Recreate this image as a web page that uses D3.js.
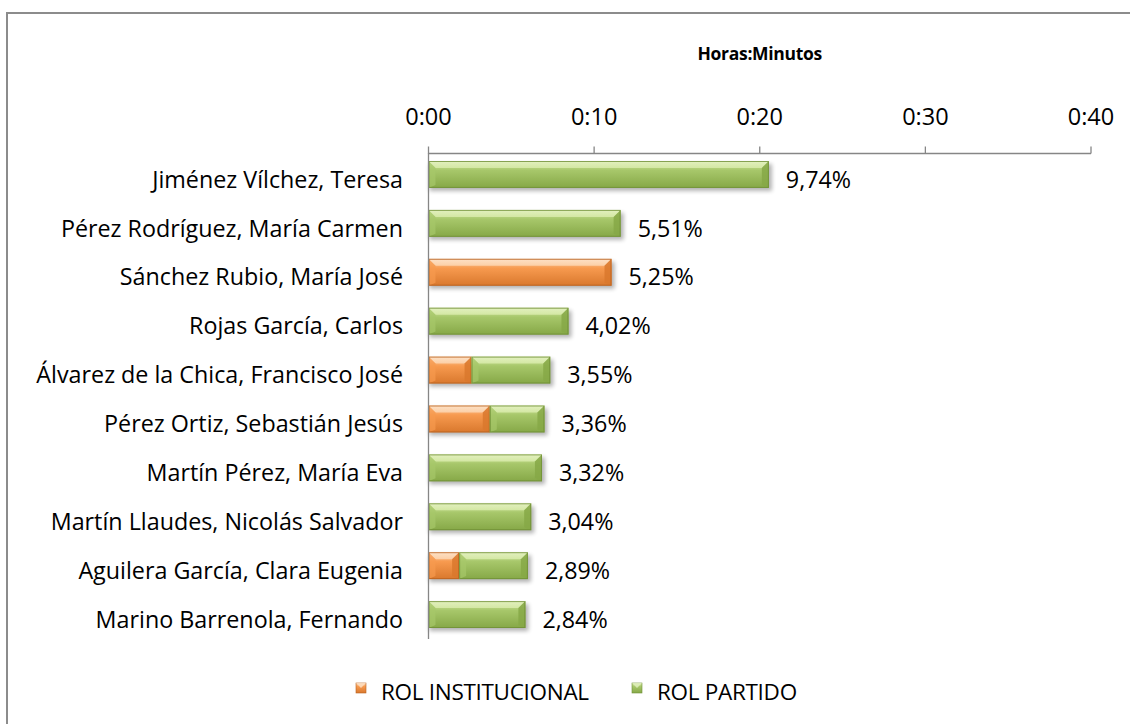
<!DOCTYPE html>
<html>
<head>
<meta charset="utf-8">
<script src="https://cdn.jsdelivr.net/npm/d3@7"></script>
<style>
  html, body { margin: 0; padding: 0; background: #fff; }
  svg { display: block; font-family: "Open Sans", Lato, sans-serif; }
</style>
</head>
<body>
<svg id="chart" width="1130" height="724"></svg>
<script>
// Speakers, ordered by total speaking time
const speakers = [
  "Jiménez Vílchez, Teresa",
  "Pérez Rodríguez, María Carmen",
  "Sánchez Rubio, María José",
  "Rojas García, Carlos",
  "Álvarez de la Chica, Francisco José",
  "Pérez Ortiz, Sebastián Jesús",
  "Martín Pérez, María Eva",
  "Martín Llaudes, Nicolás Salvador",
  "Aguilera García, Clara Eugenia",
  "Marino Barrenola, Fernando"
];
// Minutes spoken in each role
const rolInstitucional = [0, 0, 11.05, 0, 2.6, 3.7, 0, 0, 1.85, 0];
const rolPartido = [20.55, 11.6, 0, 8.45, 4.75, 3.3, 6.85, 6.2, 4.15, 5.85];
// Share of the total session time
const percentLabels = ["9,74%", "5,51%", "5,25%", "4,02%", "3,55%", "3,36%", "3,32%", "3,04%", "2,89%", "2,84%"];
const tickMinutes = [0, 10, 20, 30, 40];
const seriesNames = ["ROL INSTITUCIONAL", "ROL PARTIDO"];

const svg = d3.select("#chart");
const FS = 23.3;

// Outer chart frame
svg.append("rect")
  .attr("x", 7).attr("y", 13).attr("width", 1140).attr("height", 740)
  .attr("fill", "#fff").attr("stroke", "#8c8c8c").attr("stroke-width", 2);

const x = d3.scaleLinear().domain([0, 40]).range([428.5, 1091]);
const y = d3.scaleBand().domain(speakers).range([150, 639]).paddingInner(0.45).paddingOuter(0.225);

const palette = {
  inst: { top: "#fcd3ad", mid: "#f79a4f", bot: "#d9782d", edge: "#b8621f", hi: "#fde3c9" },
  part: { top: "#d7eaa8", mid: "#a7c76a", bot: "#86a847", edge: "#6f8f36", hi: "#e4f1c2" }
};

const defs = svg.append("defs");
Object.entries(palette).forEach(([k, c]) => {
  const g = defs.append("linearGradient").attr("id", "face-" + k)
    .attr("x1", 0).attr("y1", 0).attr("x2", 0).attr("y2", 1);
  g.append("stop").attr("offset", "0%").attr("stop-color", c.top);
  g.append("stop").attr("offset", "35%").attr("stop-color", c.mid);
  g.append("stop").attr("offset", "100%").attr("stop-color", c.bot);
  const h = defs.append("linearGradient").attr("id", "hi-" + k)
    .attr("x1", 0).attr("y1", 0).attr("x2", 0).attr("y2", 1);
  h.append("stop").attr("offset", "0%").attr("stop-color", c.hi);
  h.append("stop").attr("offset", "100%").attr("stop-color", c.top);
});
const shadow = defs.append("filter").attr("id", "shadow")
  .attr("x", "-10%").attr("y", "-30%").attr("width", "130%").attr("height", "180%");
shadow.append("feGaussianBlur").attr("stdDeviation", 2);

// Stack the two roles
const rows = speakers.map((name, i) => ({
  name,
  segs: [
    { key: "inst", x0: 0, x1: rolInstitucional[i] },
    { key: "part", x0: rolInstitucional[i], x1: rolInstitucional[i] + rolPartido[i] }
  ].filter(s => s.x1 > s.x0),
  total: rolInstitucional[i] + rolPartido[i],
  label: percentLabels[i]
}));

// Top axis
const axisG = svg.append("g").attr("transform", "translate(0,153.5)");
axisG.append("line").attr("x1", x(0)).attr("x2", x(40)).attr("stroke", "#868686").attr("stroke-width", 1.3);
axisG.selectAll(".tick").data(tickMinutes).join("line")
  .attr("x1", d => x(d)).attr("x2", d => x(d)).attr("y1", 0).attr("y2", -7)
  .attr("stroke", "#868686").attr("stroke-width", 1.3);
axisG.selectAll(".tl").data(tickMinutes).join("text")
  .attr("x", d => x(d)).attr("y", -35).attr("text-anchor", "middle")
  .attr("dominant-baseline", "middle")
  .attr("font-size", 23.5).attr("fill", "#000")
  .text(d => "0:" + String(d).padStart(2, "0"));

svg.append("text").attr("x", (x(0) + x(40)) / 2).attr("y", 55)
  .attr("text-anchor", "middle").attr("dominant-baseline", "middle")
  .attr("font-size", 17.5).attr("font-weight", "bold").attr("letter-spacing", -0.3).text("Horas:Minutos");

// Bars
const barG = svg.append("g");
const bh = y.bandwidth();
rows.forEach(r => {
  const y0 = y(r.name);
  // soft shadow under the whole bar
  barG.append("rect").attr("x", x(0) + 1).attr("y", y0 + 3)
    .attr("width", x(r.total) - x(0) + 2).attr("height", bh)
    .attr("fill", "#000").attr("opacity", 0.3).attr("filter", "url(#shadow)");
  r.segs.forEach(s => {
    const a = x(s.x0), b = x(s.x1), c = palette[s.key], bv = 7;
    const g = barG.append("g");
    g.append("rect").attr("x", a).attr("y", y0).attr("width", b - a).attr("height", bh)
      .attr("fill", `url(#face-${s.key})`);
    // top bevel facet
    g.append("path")
      .attr("d", `M${a},${y0}L${b},${y0}L${b - bv},${y0 + bv}L${a + bv},${y0 + bv}Z`)
      .attr("fill", `url(#hi-${s.key})`).attr("opacity", 0.9);
    // end facets
    g.append("path")
      .attr("d", `M${b},${y0}L${b},${y0 + bh}L${b - bv},${y0 + bh - 3}L${b - bv},${y0 + bv}Z`)
      .attr("fill", c.bot).attr("opacity", 0.85);
    g.append("path")
      .attr("d", `M${a},${y0}L${a},${y0 + bh}L${a + bv},${y0 + bh - 3}L${a + bv},${y0 + bv}Z`)
      .attr("fill", c.mid).attr("opacity", 0.7);
    g.append("rect").attr("x", a + 0.5).attr("y", y0 + 0.5).attr("width", b - a - 1).attr("height", bh - 1)
      .attr("fill", "none").attr("stroke", c.edge).attr("stroke-width", 1).attr("opacity", 0.8);
  });
  barG.append("text").attr("x", x(r.total) + 17).attr("y", y0 + bh / 2 + 7)
    .attr("dominant-baseline", "middle").attr("font-size", FS).text(r.label);
});

// Category axis
svg.append("line").attr("x1", x(0)).attr("x2", x(0)).attr("y1", 153).attr("y2", 639)
  .attr("stroke", "#868686").attr("stroke-width", 1.3);
svg.append("g").selectAll("text").data(speakers).join("text")
  .attr("x", 403).attr("y", d => y(d) + bh / 2 + 7)
  .attr("text-anchor", "end").attr("dominant-baseline", "middle")
  .attr("font-size", FS).text(d => d);

// Legend
const legend = svg.append("g");
const legendItems = [{ key: "inst", x: 356, name: seriesNames[0] }, { key: "part", x: 632, name: seriesNames[1] }];
legendItems.forEach(l => {
  legend.append("rect").attr("x", l.x).attr("y", 683).attr("width", 10).attr("height", 10)
    .attr("fill", `url(#face-${l.key})`).attr("stroke", palette[l.key].edge).attr("stroke-width", 0.6);
  legend.append("path").attr("d", `M${l.x},683L${l.x + 10},683L${l.x + 5},688Z`)
    .attr("fill", palette[l.key].hi).attr("opacity", 0.8);
  legend.append("text").attr("x", l.x + 25).attr("y", 694).attr("dominant-baseline", "middle")
    .attr("font-size", 22.5).attr("letter-spacing", -0.3).text(l.name);
});
</script>
</body>
</html>
